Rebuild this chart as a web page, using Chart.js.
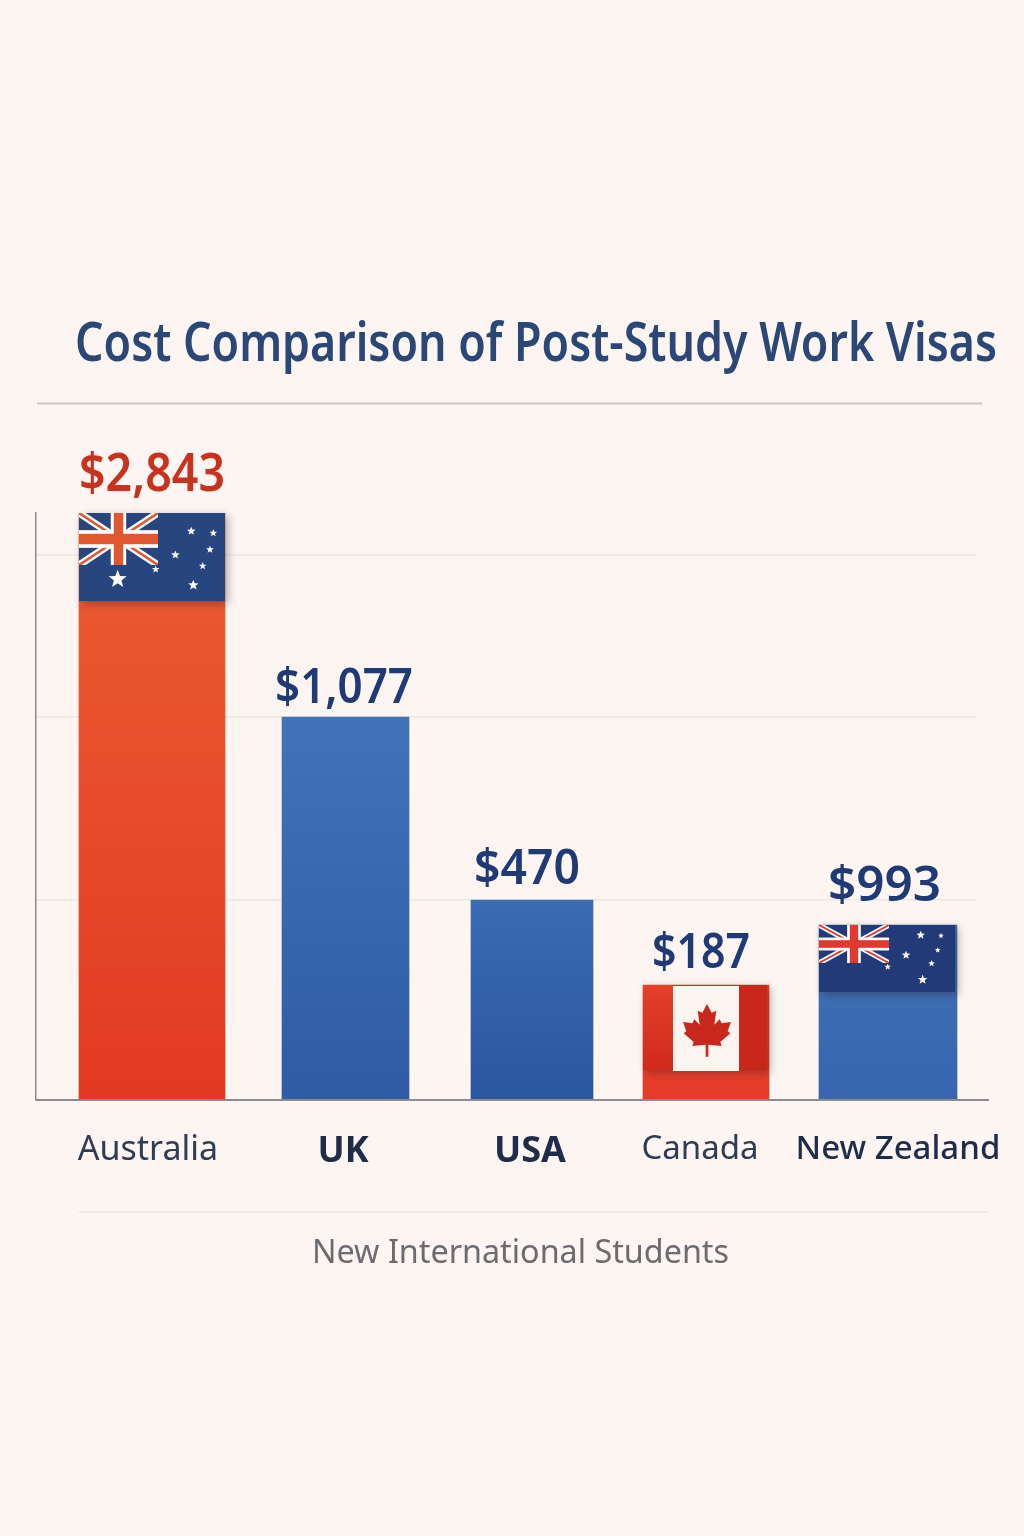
<!DOCTYPE html>
<html>
<head>
<meta charset="utf-8">
<title>Cost Comparison of Post-Study Work Visas</title>
<script src="https://cdn.jsdelivr.net/npm/chart.js@4"></script>
<style>
    html, body { margin: 0; padding: 0; background: #fcf5f1; }
    canvas { display: block; }
</style>
</head>
<body>
<canvas id="visaChart" width="1024" height="1536"></canvas>
<script>
const titleText = "Cost Comparison of Post-Study Work Visas";
const captionText = "New International Students";
const countries = ["Australia", "UK", "USA", "Canada", "New Zealand"];
const priceLabels = ["$2,843", "$1,077", "$470", "$187", "$993"];
// bars in the picture are not to scale with the prices, so heights are read off the picture
const barHeights = [587, 383, 200, 115, 175];
const gridTicks = [200, 383, 545];

// layout (x axis runs in page pixels)
const barCenters = [152, 345.5, 532, 706, 888];
const barWidths = [146, 127, 122, 126, 138];
const labelCenters = [148, 343, 530, 700, 898];
const labelWeights = [400, 700, 700, 400, 500];
const labelSizes = [34, 36, 36, 33, 33];
const priceCenters = [152, 344, 527, 701, 884.5];
const priceWidths = [146, 138, 106, 98, 113];
const priceGaps = [22, 14, 16, 17, 24];
const priceSizes = [52, 48, 48, 48, 48];
const barTopColors = ["#ea5d34", "#4272b8", "#3b6bb1", "#e8432f", "#4070b6"];
const barBottomColors = ["#e23a22", "#2f5ca4", "#2b569e", "#e53c29", "#3766ae"];
const priceColors = ["#c8331f", "#1f3a75", "#1f3a75", "#1f3a75", "#1f3a75"];

const FONT = '"Noto Sans"';

function fitText(ctx, text, x, baseline, width, font, color) {
    ctx.save();
    ctx.font = font;
    ctx.fillStyle = color;
    ctx.textAlign = "left";
    ctx.textBaseline = "alphabetic";
    const sx = width / ctx.measureText(text).width;
    ctx.translate(x, baseline);
    ctx.scale(sx, 1);
    ctx.fillText(text, 0, 0);
    ctx.restore();
}

function line(ctx, x1, y1, x2, y2, color, w) {
    ctx.strokeStyle = color;
    ctx.lineWidth = w;
    ctx.beginPath();
    ctx.moveTo(x1, y1);
    ctx.lineTo(x2, y2);
    ctx.stroke();
}

function star(ctx, cx, cy, r) {
    ctx.beginPath();
    for (let i = 0; i < 10; i++) {
        const a = -Math.PI / 2 + i * Math.PI / 5;
        const rr = i % 2 ? r * 0.42 : r;
        ctx.lineTo(cx + rr * Math.cos(a), cy + rr * Math.sin(a));
    }
    ctx.closePath();
    ctx.fill();
}

function withShadow(ctx, fn) {
    ctx.save();
    ctx.shadowColor = "rgba(40,30,30,0.35)";
    ctx.shadowBlur = 8;
    ctx.shadowOffsetX = 3;
    ctx.shadowOffsetY = 3;
    fn();
    ctx.restore();
}

function starFlag(ctx, x, y, w, h, cw, ch, navy, red, stars) {
    withShadow(ctx, () => {
        ctx.fillStyle = navy;
        ctx.fillRect(x, y, w, h);
    });
    // canton
    ctx.save();
    ctx.beginPath();
    ctx.rect(x, y, cw, ch);
    ctx.clip();
    ctx.fillStyle = navy;
    ctx.fillRect(x, y, cw, ch);
    line(ctx, x, y, x + cw, y + ch, "#fff", ch * 0.14);
    line(ctx, x + cw, y, x, y + ch, "#fff", ch * 0.14);
    line(ctx, x, y, x + cw, y + ch, red, ch * 0.05);
    line(ctx, x + cw, y, x, y + ch, red, ch * 0.05);
    ctx.fillStyle = "#fff";
    ctx.fillRect(x + cw / 2 - cw * 0.098, y, cw * 0.195, ch);
    ctx.fillRect(x, y + ch / 2 - ch * 0.17, cw, ch * 0.34);
    ctx.fillStyle = red;
    ctx.fillRect(x + cw / 2 - cw * 0.06, y, cw * 0.12, ch);
    ctx.fillRect(x, y + ch / 2 - ch * 0.1, cw, ch * 0.2);
    ctx.restore();
    ctx.fillStyle = "#fff";
    stars.forEach(s => star(ctx, x + s[0] * w, y + s[1] * h, s[2]));
}

function mapleFlag(ctx, x, y, w, h) {
    withShadow(ctx, () => {
        ctx.fillStyle = "#d22c1d";
        ctx.fillRect(x, y, w, h);
    });
    const left = ctx.createLinearGradient(0, y, 0, y + h);
    left.addColorStop(0, "#e4402c");
    left.addColorStop(1, "#cf2a1c");
    ctx.fillStyle = left;
    ctx.fillRect(x, y, 30, h);
    ctx.fillStyle = "#c9271a";
    ctx.fillRect(x + w - 28, y, 28, h);
    ctx.fillStyle = "#fbf4ef";
    ctx.fillRect(x + 30, y + 1, w - 58, h);

    const half = [[0, 0], [14, 26], [28, 20], [22, 62], [38, 46], [44, 58], [72, 54],
        [62, 82], [70, 88], [40, 114], [44, 126], [4, 122], [4, 158]];
    const cx = x + 64, cy = y + 19;
    ctx.fillStyle = "#c8291c";
    ctx.beginPath();
    half.forEach(p => ctx.lineTo(cx + p[0] / 3, cy + p[1] / 3));
    half.slice().reverse().forEach(p => ctx.lineTo(cx - p[0] / 3, cy + p[1] / 3));
    ctx.closePath();
    ctx.fill();
}

const decorPlugin = {
    id: "decor",
    beforeDraw(chart) {
        const ctx = chart.ctx;
        ctx.save();
        fitText(ctx, titleText, 75, 361, 922, "600 54px " + FONT, "#2b4775");
        line(ctx, 37, 403.5, 982, 403.5, "#c9c7c5", 2);
        line(ctx, 79, 1212, 988, 1212, "#ece6e2", 1.5);
        fitText(ctx, captionText, 312, 1263, 417, "400 32px " + FONT, "#6b6b70");
        ctx.restore();
    },
    afterDatasetsDraw(chart) {
        const ctx = chart.ctx;
        const metas = countries.map((c, i) => chart.getDatasetMeta(i).data[0]);
        ctx.save();
        line(ctx, 36, 1100, 989, 1100, "#8c8c90", 2);

        const aus = metas[0];
        starFlag(ctx, aus.x - aus.width / 2, aus.y, aus.width, 88, 79, 52, "#27467f", "#e0582f", [
            [0.769, 0.206, 4.5], [0.92, 0.228, 4], [0.66, 0.476, 4.5], [0.897, 0.416, 4],
            [0.847, 0.603, 4], [0.783, 0.82, 5.5], [0.265, 0.753, 9.5], [0.525, 0.64, 4]
        ]);
        const can = metas[3];
        mapleFlag(ctx, can.x - can.width / 2, can.y, 124, 85);
        const nz = metas[4];
        starFlag(ctx, nz.x - nz.width / 2, nz.y, 136, 67, 70, 38, "#223a78", "#e03a30", [
            [0.748, 0.15, 4.5], [0.897, 0.16, 3], [0.64, 0.45, 4.5], [0.873, 0.375, 3],
            [0.828, 0.575, 3.5], [0.762, 0.815, 5], [0.505, 0.625, 3.5]
        ]);

        priceLabels.forEach((label, i) => {
            const w = priceWidths[i];
            fitText(ctx, label, priceCenters[i] - w / 2, metas[i].y - priceGaps[i], w,
                "600 " + priceSizes[i] + "px " + FONT, priceColors[i]);
        });
        ctx.restore();
    }
};

function barFill(i) {
    return (c) => {
        const area = c.chart.chartArea;
        if (!area) return barBottomColors[i];
        const y = c.chart.scales.y;
        const g = c.chart.ctx.createLinearGradient(0, y.getPixelForValue(barHeights[i]), 0, area.bottom);
        g.addColorStop(0, barTopColors[i]);
        g.addColorStop(1, barBottomColors[i]);
        return g;
    };
}

new Chart(document.getElementById("visaChart"), {
    type: "bar",
    data: {
        datasets: countries.map((name, i) => ({
            label: name,
            data: [{ x: barCenters[i], y: barHeights[i] }],
            barThickness: barWidths[i],
            grouped: false,
            backgroundColor: barFill(i),
            borderWidth: 0
        }))
    },
    plugins: [decorPlugin],
    options: {
        responsive: false,
        animation: false,
        layout: { padding: { left: 36, right: 48, top: 513, bottom: 346 } },
        plugins: { legend: { display: false }, tooltip: { enabled: false }, title: { display: false } },
        scales: {
            x: {
                type: "linear",
                min: 36,
                max: 976,
                offset: false,
                afterBuildTicks: (scale) => { scale.ticks = labelCenters.map(v => ({ value: v })); },
                afterFit: (scale) => {
                    scale.height = 90;
                    scale.paddingLeft = 0;
                    scale.paddingRight = 0;
                },
                grid: { display: false, offset: false },
                border: { display: false },
                ticks: {
                    autoSkip: false,
                    maxRotation: 0,
                    padding: 22,
                    color: (c) => labelWeights[c.index] === 400 ? "#2e3c55" : "#1f2d4b",
                    font: (c) => ({ family: FONT, size: labelSizes[c.index], weight: labelWeights[c.index] }),
                    callback: (value) => countries[labelCenters.indexOf(value)]
                }
            },
            y: {
                min: 0,
                max: 587,
                afterBuildTicks: (scale) => { scale.ticks = gridTicks.map(v => ({ value: v })); },
                afterFit: (scale) => { scale.width = 0; },
                grid: { color: "#eee6e1", lineWidth: 1.5, drawTicks: false },
                border: { display: true, color: "#8c8c90", width: 1.5 },
                ticks: { display: false }
            }
        }
    }
});
</script>
</body>
</html>
